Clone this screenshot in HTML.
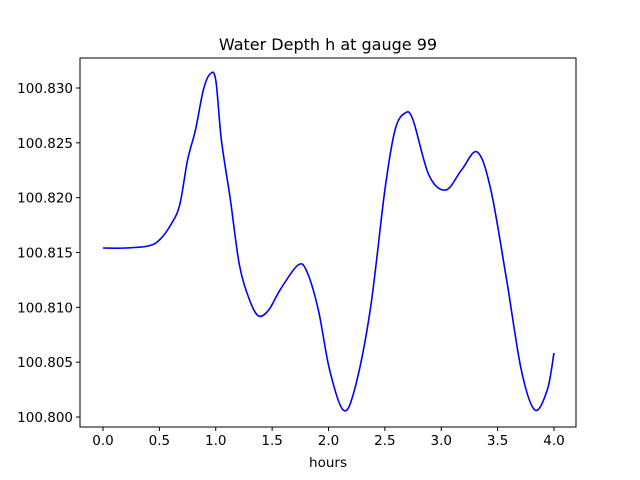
<!DOCTYPE html>
<html><head><meta charset="utf-8"><style>
body{margin:0;background:#fff;}
svg{display:block;font-family:"DejaVu Sans","Liberation Sans",sans-serif;}
</style></head><body>
<svg id="chart" width="640" height="480">
<rect width="640" height="480" fill="#fff"/>
<text x="328" y="50" text-anchor="middle" font-size="16">Water Depth h at gauge 99</text>
<g id="plot"></g>
<text x="328" y="467" text-anchor="middle" font-size="13.5">hours</text>
</svg>
<script>
const times=[0,0.2,0.4,0.5,0.6,0.68,0.75,0.82,0.89,0.95,1.0,1.05,1.13,1.21,1.3,1.38,1.47,1.57,1.73,1.81,1.91,2.01,2.13,2.23,2.37,2.5,2.59,2.68,2.75,2.89,3.04,3.18,3.32,3.44,3.58,3.71,3.83,3.94,4.0];
const depth=[100.81541,100.81541,100.81559,100.81614,100.81751,100.81933,100.82343,100.82617,100.82982,100.83128,100.83073,100.82526,100.81979,100.81386,100.81067,100.80921,100.80976,100.81158,100.81386,100.81322,100.80976,100.80429,100.80064,100.80246,100.80976,100.82070,100.82617,100.82772,100.82708,100.82207,100.82070,100.82252,100.82416,100.82070,100.81249,100.80429,100.80064,100.80246,100.80584];
const xTicks=[0,0.5,1,1.5,2,2.5,3,3.5,4];
const xTickLabels=["0.0","0.5","1.0","1.5","2.0","2.5","3.0","3.5","4.0"];
const yTicks=[100.800,100.805,100.810,100.815,100.820,100.825,100.830];
const yTickLabels=["100.800","100.805","100.810","100.815","100.820","100.825","100.830"];
const L=80,R=576,T=58,B=427;
const xs=v=>103+(v-0)*(554-103)/4;
const ys=v=>417-(v-100.800)*(329/0.030);
const NS="http://www.w3.org/2000/svg";
const g=document.getElementById('plot');
function mk(t,a){const e=document.createElementNS(NS,t);for(const k in a)e.setAttribute(k,a[k]);g.appendChild(e);return e;}
// line (Catmull-Rom smooth)
const P=times.map((t,i)=>[xs(t),ys(depth[i])]);
let d="M"+P[0][0]+","+P[0][1];
for(let i=0;i<P.length-1;i++){const p0=P[Math.max(0,i-1)],p1=P[i],p2=P[i+1],p3=P[Math.min(P.length-1,i+2)];
d+=` C${p1[0]+(p2[0]-p0[0])/6},${p1[1]+(p2[1]-p0[1])/6} ${p2[0]-(p3[0]-p1[0])/6},${p2[1]-(p3[1]-p1[1])/6} ${p2[0]},${p2[1]}`;}
const line=mk('path',{d:d,fill:'none',stroke:'#0000ff','stroke-width':1.6});


const frame=mk('rect',{x:L,y:T,width:R-L,height:B-T,fill:'none',stroke:'#000','stroke-width':1});


xTicks.forEach((v,i)=>{const x=xs(v);
const tk=mk('line',{x1:x,x2:x,y1:B,y2:B+4,stroke:'#000'});


const tx=mk('text',{x:x,y:B+18,'text-anchor':'middle','font-size':13.5});tx.textContent=xTickLabels[i];

});
yTicks.forEach((v,i)=>{const y=ys(v);
const tk=mk('line',{x1:L-4,x2:L,y1:y,y2:y,stroke:'#000'});


const tx=mk('text',{x:L-7,y:y+5,'text-anchor':'end','font-size':13.5});tx.textContent=yTickLabels[i];

});
</script>
</body></html>
